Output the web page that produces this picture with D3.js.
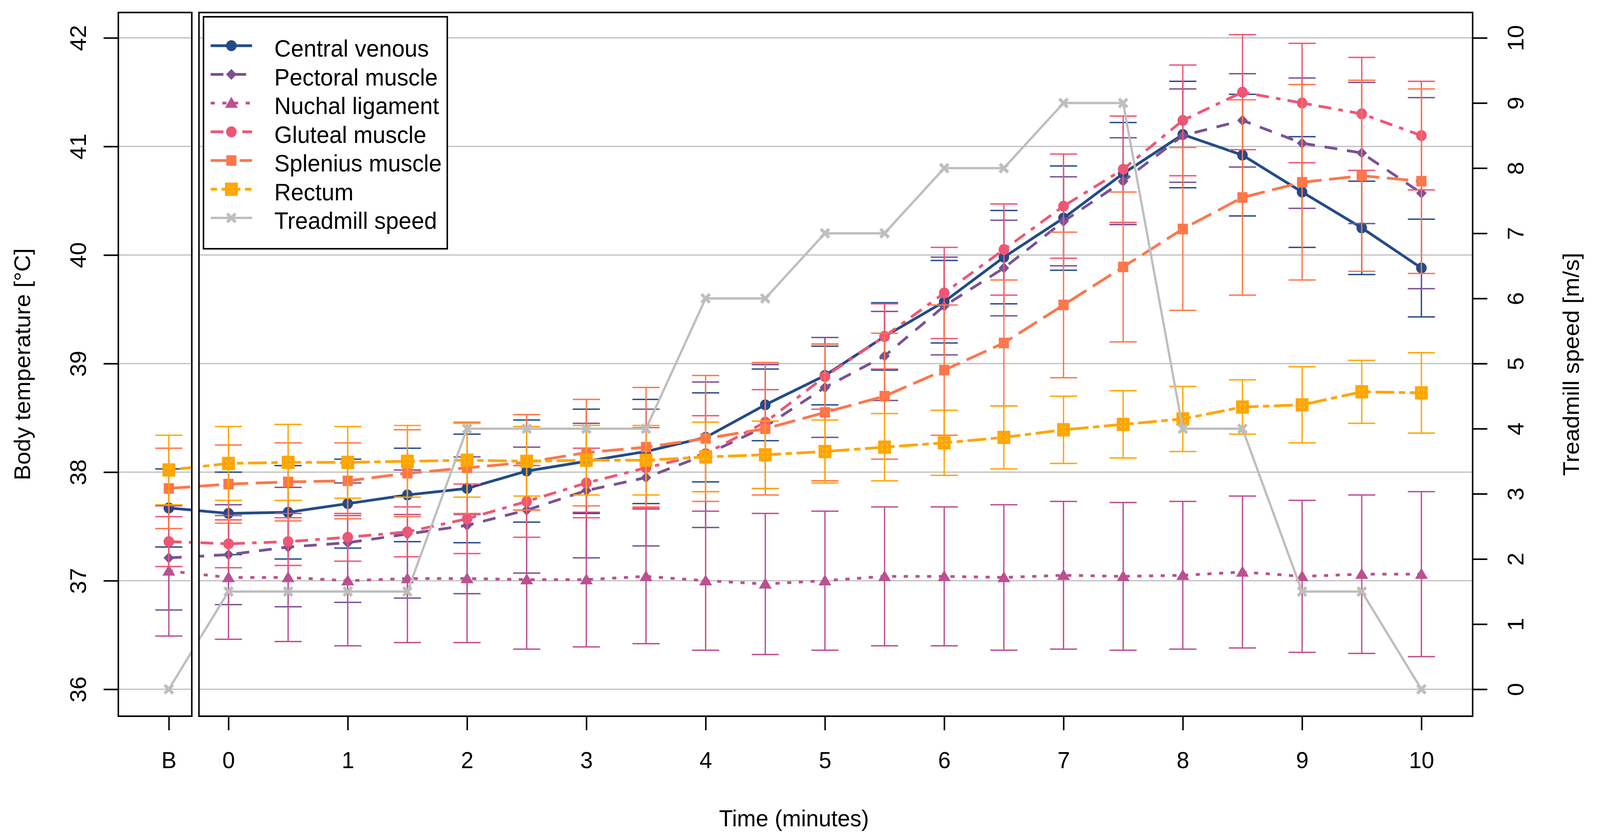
<!DOCTYPE html>
<html>
<head>
<meta charset="utf-8">
<script src="https://cdn.jsdelivr.net/npm/d3@7"></script>
<style>
  html, body { margin: 0; padding: 0; background: #fff; overflow: hidden; }
  svg { display: block; }
  text { font-family: "Liberation Sans", Arial, sans-serif; fill: #000; }
</style>
</head>
<body>
<script>
// time axis: B = baseline, then minutes 0..10 every half minute
var timeLabels = ['B', '0', '1', '2', '3', '4', '5', '6', '7', '8', '9', '10'];
var tickTimes = [-0.5, 0, 1, 2, 3, 4, 5, 6, 7, 8, 9, 10];
var timePoints = [-0.5, 0, 0.5, 1, 1.5, 2, 2.5, 3, 3.5, 4, 4.5, 5, 5.5, 6, 6.5, 7, 7.5, 8, 8.5, 9, 9.5, 10];
var tempTicks = [36, 37, 38, 39, 40, 41, 42];
var speedTicks = [0, 1, 2, 3, 4, 5, 6, 7, 8, 9, 10];

var centralVenous = [37.67, 37.62, 37.63, 37.71, 37.79, 37.85, 38.01, 38.10, 38.19, 38.32, 38.62, 38.89, 39.25, 39.57, 39.98, 40.34, 40.75, 41.11, 40.92, 40.58, 40.25, 39.88];
var centralVenousSD = [0.36, 0.38, 0.43, 0.41, 0.43, 0.50, 0.47, 0.48, 0.48, 0.41, 0.33, 0.27, 0.31, 0.38, 0.43, 0.48, 0.47, 0.49, 0.56, 0.51, 0.43, 0.45];

var pectoral = [37.21, 37.24, 37.31, 37.35, 37.43, 37.51, 37.65, 37.83, 37.95, 38.16, 38.42, 38.78, 39.07, 39.53, 39.88, 40.31, 40.68, 41.10, 41.24, 41.03, 40.94, 40.57];
var pectoralSD = [0.48, 0.46, 0.55, 0.55, 0.59, 0.63, 0.58, 0.62, 0.63, 0.67, 0.57, 0.46, 0.41, 0.45, 0.44, 0.41, 0.40, 0.43, 0.43, 0.60, 0.65, 0.88];

var nuchal = [37.09, 37.03, 37.03, 37.00, 37.02, 37.02, 37.01, 37.01, 37.04, 37.00, 36.97, 37.00, 37.04, 37.04, 37.03, 37.05, 37.04, 37.05, 37.08, 37.04, 37.06, 37.06];
var nuchalSD = [0.60, 0.57, 0.59, 0.60, 0.59, 0.59, 0.64, 0.62, 0.62, 0.64, 0.65, 0.64, 0.64, 0.64, 0.67, 0.68, 0.68, 0.68, 0.70, 0.70, 0.73, 0.76];

var gluteal = [37.36, 37.34, 37.36, 37.40, 37.45, 37.57, 37.73, 37.90, 38.04, 38.17, 38.46, 38.88, 39.25, 39.65, 40.05, 40.45, 40.79, 41.24, 41.50, 41.40, 41.30, 41.10];
var glutealSD = [0.23, 0.22, 0.22, 0.22, 0.23, 0.32, 0.33, 0.32, 0.37, 0.35, 0.30, 0.30, 0.30, 0.42, 0.42, 0.48, 0.49, 0.51, 0.53, 0.55, 0.52, 0.50];

var splenius = [37.85, 37.89, 37.91, 37.92, 37.99, 38.04, 38.09, 38.18, 38.23, 38.31, 38.40, 38.55, 38.70, 38.94, 39.19, 39.54, 39.89, 40.24, 40.53, 40.67, 40.73, 40.68];
var spleniusSD = [0.37, 0.36, 0.36, 0.35, 0.40, 0.42, 0.44, 0.49, 0.55, 0.58, 0.61, 0.63, 0.58, 0.60, 0.58, 0.67, 0.69, 0.75, 0.90, 0.90, 0.88, 0.85];

var rectum = [38.02, 38.08, 38.09, 38.09, 38.10, 38.11, 38.10, 38.11, 38.11, 38.14, 38.16, 38.19, 38.23, 38.27, 38.32, 38.39, 38.44, 38.49, 38.60, 38.62, 38.74, 38.73];
var rectumSD = [0.32, 0.34, 0.35, 0.33, 0.33, 0.34, 0.32, 0.32, 0.32, 0.32, 0.31, 0.29, 0.31, 0.30, 0.29, 0.31, 0.31, 0.30, 0.25, 0.35, 0.29, 0.37];

var treadmillSpeed = [0, 1.5, 1.5, 1.5, 1.5, 4, 4, 4, 4, 6, 6, 7, 7, 8, 8, 9, 9, 4, 4, 1.5, 1.5, 0];

// marker shapes, centred on 0,0
var shapes = {
  circle: 'M14,0A14,14 0 1,1 -14,0A14,14 0 1,1 14,0Z',
  diamond: 'M0,-14L14,0L0,14L-14,0Z',
  triangle: 'M0,-16L17,12L-17,12Z',
  square: 'M-13.5,-13.5h27v27h-27Z',
  boxplus: 'M-12,-12h24v24h-24Z M0,-12v24 M-12,0h24',
  cross: 'M-11,-11L11,11 M-11,11L11,-11'
};

var series = [
  {name: 'Central venous', values: centralVenous, sd: centralVenousSD, color: '#234b89', dash: null, shape: 'circle'},
  {name: 'Pectoral muscle', values: pectoral, sd: pectoralSD, color: '#7a5195', dash: '34,26', shape: 'diamond'},
  {name: 'Nuchal ligament', values: nuchal, sd: nuchalSD, color: '#bc5090', dash: '11,20', shape: 'triangle'},
  {name: 'Gluteal muscle', values: gluteal, sd: glutealSD, color: '#ef5675', dash: '34,19,12,19', shape: 'circle'},
  {name: 'Splenius muscle', values: splenius, sd: spleniusSD, color: '#ff764a', dash: '57,20', shape: 'square'},
  {name: 'Rectum', values: rectum, sd: rectumSD, color: '#ffa600', dash: '17,12,50,12', shape: 'boxplus'}
];
var treadmill = {name: 'Treadmill speed', color: '#bebebe', dash: null, shape: 'cross'};

var frame = {left: 314, gapLeft: 509, gapRight: 528, right: 3908, top: 32, bottom: 1834};

var x = d3.scaleLinear().domain([-0.5, 10]).range([448, 3772]);
var yTemp = d3.scaleLinear().domain([36, 42]).range([1765, 97]);
var ySpeed = d3.scaleLinear().domain([0, 10]).range([1765, 97]);

// drawn in a 4246x2151 space, stretched to whatever the window gives
var svg = d3.select('body').append('svg')
  .attr('viewBox', '0 0 4246 2151')
  .attr('preserveAspectRatio', 'none')
  .style('width', '100vw')
  .style('height', '100vh');

var clip = svg.append('defs').append('clipPath').attr('id', 'panels');
clip.append('rect')
  .attr('x', frame.left).attr('y', frame.top)
  .attr('width', frame.gapLeft - frame.left).attr('height', frame.bottom - frame.top);
clip.append('rect')
  .attr('x', frame.gapRight).attr('y', frame.top)
  .attr('width', frame.right - frame.gapRight).attr('height', frame.bottom - frame.top);

var plot = svg.append('g').attr('clip-path', 'url(#panels)');

// horizontal grid
plot.append('g')
  .selectAll('line')
  .data(tempTicks)
  .enter()
  .append('line')
  .attr('x1', frame.left)
  .attr('x2', frame.right)
  .attr('y1', function(d) { return yTemp(d); })
  .attr('y2', function(d) { return yTemp(d); })
  .attr('stroke', '#bebebe')
  .attr('stroke-width', 3);

function markerStyle(sel, s) {
  var stroked = s.shape === 'boxplus' || s.shape === 'cross';
  sel.attr('d', shapes[s.shape])
    .attr('fill', stroked ? 'none' : s.color)
    .attr('stroke', stroked ? s.color : 'none')
    .attr('stroke-width', s.shape === 'boxplus' ? 10 : 8);
}

series.forEach(function(s) {
  var pts = timePoints.map(function(t, i) {
    return {t: t, m: s.values[i], sd: s.sd[i]};
  });
  var g = plot.append('g');
  var bars = g.selectAll('g.bar')
    .data(pts)
    .enter()
    .append('g')
    .attr('stroke', s.color)
    .attr('stroke-width', 3.5);
  bars.append('line')
    .attr('x1', function(d) { return x(d.t); })
    .attr('x2', function(d) { return x(d.t); })
    .attr('y1', function(d) { return yTemp(d.m - d.sd); })
    .attr('y2', function(d) { return yTemp(d.m + d.sd); });
  [-1, 1].forEach(function(sign) {
    bars.append('line')
      .attr('x1', function(d) { return x(d.t) - 36; })
      .attr('x2', function(d) { return x(d.t) + 36; })
      .attr('y1', function(d) { return yTemp(d.m + sign * d.sd); })
      .attr('y2', function(d) { return yTemp(d.m + sign * d.sd); });
  });
  g.append('path')
    .datum(pts)
    .attr('fill', 'none')
    .attr('stroke', s.color)
    .attr('stroke-width', 7)
    .attr('stroke-dasharray', s.dash)
    .attr('d', d3.line()
      .x(function(d) { return x(d.t); })
      .y(function(d) { return yTemp(d.m); }));
  g.selectAll('path.pt')
    .data(pts)
    .enter()
    .append('path')
    .attr('class', 'pt')
    .attr('transform', function(d) { return 'translate(' + x(d.t) + ',' + yTemp(d.m) + ')'; })
    .call(markerStyle, s);
});

// treadmill speed on the right axis
var speedPts = timePoints.map(function(t, i) { return {t: t, v: treadmillSpeed[i]}; });
var tg = plot.append('g');
tg.append('path')
  .datum(speedPts)
  .attr('fill', 'none')
  .attr('stroke', treadmill.color)
  .attr('stroke-width', 6)
  .attr('d', d3.line()
    .x(function(d) { return x(d.t); })
    .y(function(d) { return ySpeed(d.v); }));
tg.selectAll('path.pt')
  .data(speedPts)
  .enter()
  .append('path')
  .attr('class', 'pt')
  .attr('transform', function(d) { return 'translate(' + x(d.t) + ',' + ySpeed(d.v) + ')'; })
  .call(markerStyle, treadmill);

// panel boxes
[[frame.left, frame.gapLeft], [frame.gapRight, frame.right]].forEach(function(p) {
  svg.append('rect')
    .attr('x', p[0]).attr('y', frame.top)
    .attr('width', p[1] - p[0]).attr('height', frame.bottom - frame.top)
    .attr('fill', 'none')
    .attr('stroke', '#000')
    .attr('stroke-width', 4);
});

function styleAxis(g) {
  g.attr('font-size', 60).attr('font-family', '"Liberation Sans", Arial, sans-serif');
  g.select('.domain').remove();
  g.selectAll('.tick line').attr('stroke-width', 4);
}

var axLeft = svg.append('g')
  .attr('transform', 'translate(' + frame.left + ',0)')
  .call(d3.axisLeft(yTemp).tickValues(tempTicks).tickSize(39).tickFormat(d3.format('d')))
  .call(styleAxis);
axLeft.selectAll('.tick text')
  .attr('x', 0).attr('y', -86).attr('dy', null)
  .attr('text-anchor', 'middle')
  .attr('transform', 'rotate(-90)');

var axRight = svg.append('g')
  .attr('transform', 'translate(' + frame.right + ',0)')
  .call(d3.axisRight(ySpeed).tickValues(speedTicks).tickSize(39).tickFormat(d3.format('d')))
  .call(styleAxis);
axRight.selectAll('.tick text')
  .attr('x', 0).attr('y', 135).attr('dy', null)
  .attr('text-anchor', 'middle')
  .attr('transform', 'rotate(-90)');

var axBottom = svg.append('g')
  .attr('transform', 'translate(0,' + frame.bottom + ')')
  .call(d3.axisBottom(x).tickValues(tickTimes).tickSize(36)
    .tickFormat(function(d, i) { return timeLabels[i]; }))
  .call(styleAxis);
axBottom.selectAll('.tick text')
  .attr('y', 133).attr('dy', null);

// axis titles
svg.append('text')
  .attr('transform', 'translate(80,933) rotate(-90)')
  .attr('text-anchor', 'middle')
  .attr('font-size', 60)
  .text('Body temperature [°C]');
svg.append('text')
  .attr('transform', 'translate(4190,933) rotate(-90)')
  .attr('text-anchor', 'middle')
  .attr('font-size', 60)
  .text('Treadmill speed [m/s]');
svg.append('text')
  .attr('x', 2107)
  .attr('y', 2116)
  .attr('text-anchor', 'middle')
  .attr('font-size', 60)
  .text('Time (minutes)');

// legend
var legendItems = series.concat([treadmill]);
var legend = svg.append('g');
legend.append('rect')
  .attr('x', 540).attr('y', 43)
  .attr('width', 647).attr('height', 594)
  .attr('fill', '#fff')
  .attr('stroke', '#000')
  .attr('stroke-width', 4);
var rows = legend.selectAll('g.row')
  .data(legendItems)
  .enter()
  .append('g')
  .attr('transform', function(d, i) { return 'translate(0,' + (117 + i * 73.5) + ')'; });
rows.append('line')
  .attr('x1', 559).attr('x2', 669)
  .attr('stroke', function(d) { return d.color; })
  .attr('stroke-width', function(d) { return d === treadmill ? 6 : 7; })
  .attr('stroke-dasharray', function(d) { return d.dash; });
rows.each(function(d) {
  d3.select(this).append('path')
    .attr('transform', 'translate(614,0)')
    .call(markerStyle, d);
});
rows.append('text')
  .attr('x', 728)
  .attr('y', 28)
  .attr('font-size', 61)
  .text(function(d) { return d.name; });
</script>
</body>
</html>
